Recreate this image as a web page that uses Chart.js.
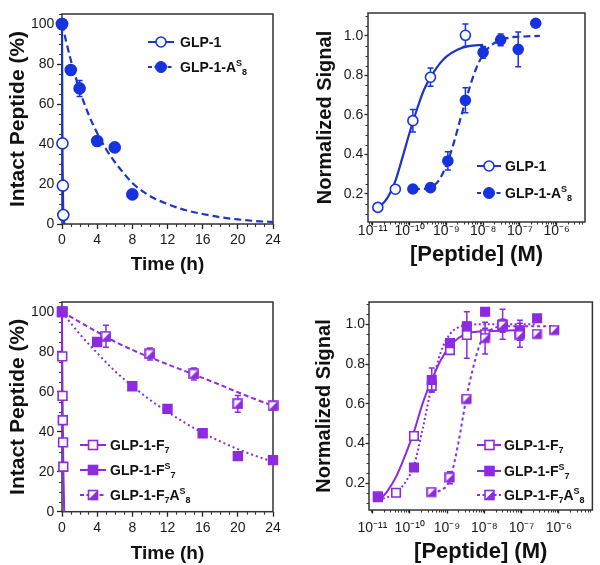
<!DOCTYPE html>
<html>
<head>
<meta charset="utf-8">
<script src="https://cdn.jsdelivr.net/npm/chart.js@4.4.1/dist/chart.umd.min.js"></script>
<style>
  html, body { margin:0; padding:0; background:#fff; }
  #page { position:relative; width:600px; height:565px; overflow:hidden; background:#fff; }
  #page canvas { position:absolute; }
  .lg { position:absolute; height:16px; display:flex; align-items:center; white-space:nowrap;
        font:bold 14px "Liberation Sans", Arial, Helvetica, sans-serif; color:#111; }
  .lg svg { display:block; flex:none; }
  .lg sup { font-size:9px; vertical-align:6px; line-height:0; }
  .lg sub { font-size:9px; vertical-align:-3px; line-height:0; }
</style>
</head>
<body>
<div id="page">
  <canvas id="cA" width="300" height="280" style="left:0;top:0"></canvas>
  <canvas id="cB" width="300" height="280" style="left:300px;top:0"></canvas>
  <canvas id="cC" width="300" height="285" style="left:0;top:280px"></canvas>
  <canvas id="cD" width="300" height="285" style="left:300px;top:280px"></canvas>

  <!-- Legend A -->
  <div class="lg" style="left:148px;top:34px">
    <svg width="26" height="16"><line x1="0" y1="8" x2="26" y2="8" stroke="#1d34c4" stroke-width="2"/><circle cx="13" cy="8" r="5" fill="#fff" stroke="#1733dd" stroke-width="1.6"/></svg>
    <span style="margin-left:6px">GLP-1</span>
  </div>
  <div class="lg" style="left:148px;top:59px">
    <svg width="26" height="16"><line x1="0" y1="8" x2="26" y2="8" stroke="#1d34c4" stroke-width="2" stroke-dasharray="4,2.5"/><circle cx="13" cy="8" r="5.5" fill="#1733dd" stroke="#1733dd" stroke-width="1"/></svg>
    <span style="margin-left:6px">GLP-1-A<sup>S</sup><sub>8</sub></span>
  </div>

  <!-- Legend B -->
  <div class="lg" style="left:477px;top:158px">
    <svg width="24" height="16"><line x1="0" y1="8" x2="24" y2="8" stroke="#1d34c4" stroke-width="2"/><circle cx="12" cy="8" r="5" fill="#fff" stroke="#1733dd" stroke-width="1.6"/></svg>
    <span style="margin-left:4px">GLP-1</span>
  </div>
  <div class="lg" style="left:477px;top:185px">
    <svg width="24" height="16"><line x1="0" y1="8" x2="24" y2="8" stroke="#1d34c4" stroke-width="2" stroke-dasharray="4,2.5"/><circle cx="12" cy="8" r="5.5" fill="#1733dd" stroke="#1733dd" stroke-width="1"/></svg>
    <span style="margin-left:4px">GLP-1-A<sup>S</sup><sub>8</sub></span>
  </div>

  <!-- Legend C -->
  <div class="lg" style="left:80px;top:437px">
    <svg width="26" height="16"><line x1="0" y1="8" x2="26" y2="8" stroke="#8c2be0" stroke-width="2"/><rect x="8.5" y="3.5" width="9" height="9" fill="#fff" stroke="#8c2be0" stroke-width="1.6"/></svg>
    <span style="margin-left:4px">GLP-1-F<sub>7</sub></span>
  </div>
  <div class="lg" style="left:80px;top:462px">
    <svg width="26" height="16"><line x1="0" y1="8" x2="26" y2="8" stroke="#8c2be0" stroke-width="2"/><rect x="8.5" y="3.5" width="9" height="9" fill="#8c2be0" stroke="#8c2be0" stroke-width="1.6"/></svg>
    <span style="margin-left:4px">GLP-1-F<sup>S</sup><sub>7</sub></span>
  </div>
  <div class="lg" style="left:80px;top:487px">
    <svg width="26" height="16"><line x1="0" y1="8" x2="26" y2="8" stroke="#8c2be0" stroke-width="2" stroke-dasharray="4,2.5"/><rect x="8.5" y="3.5" width="9" height="9" fill="#fff" stroke="#8c2be0" stroke-width="1.6"/><polygon points="8.5,12.5 17.5,3.5 17.5,12.5" fill="#8c2be0"/></svg>
    <span style="margin-left:4px">GLP-1-F<sub>7</sub>A<sup>S</sup><sub>8</sub></span>
  </div>

  <!-- Legend D -->
  <div class="lg" style="left:477px;top:437px">
    <svg width="24" height="16"><line x1="0" y1="8" x2="24" y2="8" stroke="#8c2be0" stroke-width="2"/><rect x="8" y="3.5" width="9" height="9" fill="#fff" stroke="#8c2be0" stroke-width="1.6"/></svg>
    <span style="margin-left:3px">GLP-1-F<sub>7</sub></span>
  </div>
  <div class="lg" style="left:477px;top:463px">
    <svg width="24" height="16"><line x1="0" y1="8" x2="24" y2="8" stroke="#8c2be0" stroke-width="2"/><rect x="8" y="3.5" width="9" height="9" fill="#8c2be0" stroke="#8c2be0" stroke-width="1.6"/></svg>
    <span style="margin-left:3px">GLP-1-F<sup>S</sup><sub>7</sub></span>
  </div>
  <div class="lg" style="left:477px;top:487px">
    <svg width="24" height="16"><line x1="0" y1="8" x2="24" y2="8" stroke="#8c2be0" stroke-width="2" stroke-dasharray="3,2.5"/><rect x="8" y="3.5" width="9" height="9" fill="#fff" stroke="#8c2be0" stroke-width="1.6"/><polygon points="8,12.5 17,3.5 17,12.5" fill="#8c2be0"/></svg>
    <span style="margin-left:3px">GLP-1-F<sub>7</sub>A<sup>S</sup><sub>8</sub></span>
  </div>
</div>

<script>
// ================= DATA =================
// Tick values / labels
const timeTicks = [0, 4, 8, 12, 16, 20, 24];
const timeTickLabels = ['0', '4', '8', '12', '16', '20', '24'];
const intactTicks = [0, 20, 40, 60, 80, 100];
const intactTickLabels = ['0', '20', '40', '60', '80', '100'];
const signalTicks = [0.2, 0.4, 0.6, 0.8, 1.0];
const signalTickLabels = ['0.2', '0.4', '0.6', '0.8', '1.0'];
const concTicks = [1e-11, 1e-10, 1e-9, 1e-8, 1e-7, 1e-6];
const concTickLabels = ['10⁻¹¹', '10⁻¹⁰', '10⁻⁹', '10⁻⁸', '10⁻⁷', '10⁻⁶'];

// Panel A: proteolytic stability (time in h, % intact)
const aTimeGLP1 = [0, 0.05, 0.1, 0.15];
const aIntactGLP1 = [100, 40.3, 19.2, 4.5];
const aFitTimeGLP1 = [0, 0.05, 0.1, 0.15, 0.3];
const aFitIntactGLP1 = [100, 40.3, 19.2, 4.5, 0];
const aTimeAS8 = [0, 1, 2, 4, 6, 8];
const aIntactAS8 = [100, 77, 67.8, 41.5, 38.3, 14.8];
const aErrAS8 = [0, 1.5, 4, 1.5, 1.5, 1];
const aFitTimeAS8 = [0, 1, 2, 3, 4, 5, 6, 7, 8, 10, 12, 14, 16, 18, 20, 22, 24];
const aFitIntactAS8 = [100, 82, 67, 55, 45.5, 37.5, 31, 25.5, 20.5, 14, 10, 7, 5, 3.4, 2.3, 1.5, 1.0];

// Panel B: receptor activation (M, normalized signal)
const bConcGLP1 = [1.37e-11, 4.1e-11, 1.23e-10, 3.7e-10, 3.3e-9];
const bSignalGLP1 = [0.132, 0.224, 0.571, 0.791, 1.003];
const bErrGLP1 = [0.01, 0.012, 0.057, 0.046, 0.057];
const bConcAS8 = [1.23e-10, 3.7e-10, 1.1e-9, 3.3e-9, 1e-8, 3e-8, 9e-8, 2.7e-7];
const bSignalAS8 = [0.225, 0.232, 0.367, 0.674, 0.917, 0.98, 0.932, 1.064];
const bErrAS8 = [0.01, 0.015, 0.046, 0.063, 0.03, 0.03, 0.088, 0];
const bFitConcGLP1 = [1.38e-11, 2.5e-11, 4e-11, 6.3e-11, 1e-10, 1.6e-10, 2.5e-10, 4e-10, 6.3e-10, 1e-9, 2e-9, 4e-9, 1e-8];
const bFitSignalGLP1 = [0.125, 0.18, 0.26, 0.38, 0.51, 0.63, 0.73, 0.80, 0.855, 0.895, 0.93, 0.948, 0.955];
const bFitConcAS8 = [1.23e-10, 2.5e-10, 4e-10, 6.3e-10, 1e-9, 1.6e-9, 2.5e-9, 4e-9, 6.3e-9, 1e-8, 1.6e-8, 3e-8, 6e-8, 1.2e-7, 3.5e-7];
const bFitSignalAS8 = [0.225, 0.226, 0.235, 0.27, 0.345, 0.46, 0.59, 0.72, 0.83, 0.905, 0.95, 0.98, 0.993, 0.997, 1.0];

// Panel C: proteolytic stability of F7 analogues
const cTimeF7 = [0, 0.03, 0.06, 0.09, 0.12, 0.15];
const cIntactF7 = [100, 77.8, 58, 45.8, 34.7, 22.5];
const cFitTimeF7 = [0, 0.03, 0.06, 0.09, 0.12, 0.15, 0.25];
const cFitIntactF7 = [100, 77.8, 58, 45.8, 34.7, 22.5, 0];
const cTimeFS7 = [0, 4, 8, 12, 16, 20, 24];
const cIntactFS7 = [100, 85, 62.8, 51.5, 39.3, 27.8, 25.8];
const cErrFS7 = [0, 1, 1, 1, 1, 2, 2];
const cTimeF7AS8 = [0, 5, 10, 15, 20, 24];
const cIntactF7AS8 = [100, 87.8, 79, 69, 54, 53];
const cErrF7AS8 = [0, 5.5, 3, 3, 4.2, 2];
const cFitTime = [0, 2, 4, 6, 8, 10, 12, 14, 16, 18, 20, 22, 24];
const cFitIntactFS7 = [100, 89, 79.5, 70.5, 63, 56, 50, 44.5, 39.5, 35.2, 31.3, 28, 25];
const cFitIntactF7AS8 = [100, 95, 90, 85.2, 81, 77.3, 73.8, 70.4, 67, 63.5, 59.8, 56.3, 53];

// Panel D: receptor activation of F7 analogues
const dConcF7 = [1.4e-11, 4.3e-11, 1.3e-10, 3.9e-10, 1.2e-9, 3.4e-9, 1.05e-8, 3.1e-8, 9e-8];
const dSignalF7 = [0.135, 0.153, 0.438, 0.69, 0.87, 0.946, 0.95, 0.99, 0.955];
const dErrF7 = [0.01, 0.01, 0.015, 0.03, 0.02, 0.117, 0.03, 0.03, 0.02];
const dConcFS7 = [1.4e-11, 1.3e-10, 3.9e-10, 1.2e-9, 3.4e-9, 1.05e-8, 3.1e-8, 9e-8, 2.6e-7];
const dSignalFS7 = [0.13, 0.28, 0.72, 0.905, 0.99, 1.063, 1.0, 0.97, 1.03];
const dErrFS7 = [0.01, 0.01, 0.06, 0.02, 0.02, 0.02, 0.075, 0.05, 0.01];
const dConcF7AS8 = [3.9e-10, 1.2e-9, 3.4e-9, 1.05e-8, 3.1e-8, 9e-8, 2.6e-7, 7.6e-7];
const dSignalF7AS8 = [0.155, 0.228, 0.624, 0.93, 0.995, 0.945, 0.95, 0.97];
const dErrF7AS8 = [0.01, 0.03, 0.02, 0.08, 0.03, 0.06, 0.01, 0.01];
const dFitConcF7 = [1.45e-11, 2.5e-11, 4.5e-11, 7.9e-11, 1.3e-10, 2.2e-10, 3.9e-10, 6.8e-10, 1.2e-9, 2e-9, 3.5e-9, 6.3e-9, 1.07e-8, 3.2e-8, 9e-8];
const dFitSignalF7 = [0.11, 0.16, 0.24, 0.35, 0.46, 0.6, 0.72, 0.82, 0.89, 0.93, 0.955, 0.962, 0.965, 0.968, 0.97];
const dFitConcFS7 = [1.45e-11, 2.5e-11, 4.5e-11, 7.9e-11, 1.3e-10, 2.2e-10, 3.9e-10, 6.8e-10, 1.2e-9, 2e-9, 3.5e-9, 1.07e-8, 9e-8, 2.6e-7];
const dFitSignalFS7 = [0.12, 0.13, 0.155, 0.21, 0.29, 0.47, 0.69, 0.86, 0.95, 0.985, 0.997, 1.0, 1.0, 1.0];
const dFitConcF7AS8 = [3.9e-10, 6.8e-10, 1.2e-9, 2e-9, 3.3e-9, 5e-9, 7.6e-9, 1.07e-8, 1.8e-8, 3.2e-8, 9e-8, 2.6e-7, 7.6e-7];
const dFitSignalF7AS8 = [0.155, 0.165, 0.22, 0.4, 0.63, 0.78, 0.9, 0.95, 0.98, 0.99, 0.99, 0.99, 0.99];

// ================= STYLE / HELPERS =================
const BLUE = '#1733dd';
const BLUE_LINE = '#1d34c4';
const PURPLE = '#8c2be0';
const FAMILY = '"Liberation Sans", Arial, Helvetica, sans-serif';
const TICK_FONT = {family: FAMILY, size: 14};
const AXIS_COLOR = '#222';

function xy(xs, ys) { return xs.map((x, i) => ({x: x, y: ys[i]})); }

function halfSquare(side, color) {
  const c = document.createElement('canvas');
  const s = Math.ceil(side) + 2;
  c.width = s; c.height = s;
  const g = c.getContext('2d');
  const o = 1, e = 1 + side;
  g.fillStyle = '#fff'; g.fillRect(o, o, side, side);
  g.beginPath(); g.moveTo(o, e); g.lineTo(e, o); g.lineTo(e, e); g.closePath();
  g.fillStyle = color; g.fill();
  g.lineWidth = 1.6; g.strokeStyle = color; g.strokeRect(o, o, side, side);
  return c;
}

function pointSet(xs, ys, errs, style, color, fill, r) {
  return {
    data: xy(xs, ys), errors: errs, showLine: false, pointStyle: style,
    pointRadius: r, pointHoverRadius: r, pointBackgroundColor: fill, pointBorderColor: color,
    pointBorderWidth: 1.6, borderColor: color, backgroundColor: fill, clip: false
  };
}
function fitSet(xs, ys, color, dash, w) {
  return {
    data: xy(xs, ys), showLine: true, pointRadius: 0, pointHoverRadius: 0, pointHitRadius: 0,
    borderColor: color, borderWidth: w, borderDash: dash, cubicInterpolationMode: 'monotone',
    fill: false, clip: false
  };
}

function axisCommon(pos, o, ticks, labels) {
  return {
    position: pos,
    afterBuildTicks: s => { s.ticks = ticks.map(v => ({value: v})); },
    afterFit: s => { if (pos === 'left') s.width = o.size; else s.height = o.size; },
    ticks: {callback: (v, i) => labels[i], font: TICK_FONT, color: '#1a1a1a', padding: o.tickPad,
            maxRotation: 0, minRotation: 0, autoSkip: false},
    grid: {display: true, drawOnChartArea: false, drawTicks: true, tickLength: o.tickLen, color: AXIS_COLOR, tickColor: AXIS_COLOR, tickWidth: 1.3},
    border: {display: false},
    title: {display: true, text: o.title, color: '#111',
            font: {family: FAMILY, size: o.titleSize, weight: 'bold'}, padding: o.titlePad}
  };
}
function linAxis(pos, min, max, ticks, labels, o) {
  return Object.assign({type: 'linear', min: min, max: max}, axisCommon(pos, o, ticks, labels));
}
function logAxis(min, max, o) {
  return Object.assign({type: 'logarithmic', min: min, max: max}, axisCommon('bottom', o, concTicks, concTickLabels));
}
function linMinors(lo, hi, step, majors) {
  const out = [];
  for (let k = Math.ceil(lo / step); k * step <= hi + 1e-9; k++) {
    const v = +(k * step).toFixed(6);
    if (!majors.some(m => Math.abs(m - v) < 1e-9)) out.push(v);
  }
  return out;
}
function logMinors(lo, hi) {
  const out = [];
  for (let d = -12; d <= -5; d++) for (let m = 2; m <= 9; m++) {
    const v = m * Math.pow(10, d);
    if (v > lo && v < hi) out.push(v);
  }
  return out;
}

const framePlugin = {
  id: 'frame',
  beforeDatasetsDraw(chart, args, o) {
    const {ctx, chartArea: a, scales} = chart;
    ctx.save();
    ctx.strokeStyle = o.color; ctx.lineWidth = o.width;
    ctx.strokeRect(a.left, a.top, a.right - a.left, a.bottom - a.top);
    ctx.lineWidth = 1.1;
    ctx.beginPath();
    (o.minorX || []).forEach(v => {
      const p = Math.round(scales.x.getPixelForValue(v)) + 0.5;
      ctx.moveTo(p, a.bottom); ctx.lineTo(p, a.bottom + o.len);
    });
    (o.minorY || []).forEach(v => {
      const p = Math.round(scales.y.getPixelForValue(v)) + 0.5;
      ctx.moveTo(a.left, p); ctx.lineTo(a.left - o.len, p);
    });
    ctx.stroke();
    ctx.restore();
  }
};
const errorBarPlugin = {
  id: 'errbars',
  beforeDatasetDraw(chart, args) {
    const ds = chart.data.datasets[args.index];
    if (!ds.errors) return;
    const meta = args.meta, ys = chart.scales[meta.yAxisID], ctx = chart.ctx;
    const cap = 3;
    ctx.save(); ctx.strokeStyle = ds.pointBorderColor; ctx.lineWidth = 1.5;
    ctx.beginPath();
    meta.data.forEach((el, i) => {
      const e = ds.errors[i]; if (!e) return;
      const v = ds.data[i].y;
      const t = ys.getPixelForValue(v + e), b = ys.getPixelForValue(v - e);
      ctx.moveTo(el.x, t); ctx.lineTo(el.x, b);
      ctx.moveTo(el.x - cap, t); ctx.lineTo(el.x + cap, t);
      ctx.moveTo(el.x - cap, b); ctx.lineTo(el.x + cap, b);
    });
    ctx.stroke(); ctx.restore();
  }
};

function makeChart(id, datasets, padding, xScale, yScale, frame) {
  return new Chart(document.getElementById(id), {
    type: 'scatter',
    data: {datasets: datasets},
    plugins: [framePlugin, errorBarPlugin],
    options: {
      responsive: false, animation: false, devicePixelRatio: 1, events: [],
      layout: {padding: padding},
      plugins: {legend: {display: false}, tooltip: {enabled: false}, frame: frame},
      scales: {x: xScale, y: yScale}
    }
  });
}

// ================= PANEL A =================
makeChart('cA', [
  pointSet(aTimeAS8, aIntactAS8, aErrAS8, 'circle', BLUE, BLUE, 5.5),
  pointSet(aTimeGLP1, aIntactGLP1, null, 'circle', BLUE, '#fff', 5.5),
  fitSet(aFitTimeAS8, aFitIntactAS8, BLUE_LINE, [7, 4], 2.2),
  fitSet(aFitTimeGLP1, aFitIntactGLP1, BLUE_LINE, [], 2.2)
], {left: 0, right: 27, top: 14, bottom: 0},
  linAxis('bottom', 0, 24, timeTicks, timeTickLabels,
    {size: 56, tickLen: 5, tickPad: 2.6, title: 'Time (h)', titleSize: 19, titlePad: {top: 0, bottom: 3.6}}),
  linAxis('left', 0, 105, intactTicks, intactTickLabels,
    {size: 62, tickLen: 5, tickPad: 2.7, title: 'Intact Peptide (%)', titleSize: 21, titlePad: {top: 5.4, bottom: 0}}),
  {color: '#333', width: 1.5, len: 3, minorX: linMinors(0, 24, 1, timeTicks), minorY: linMinors(0, 105, 5, intactTicks)}
);

// ================= PANEL B =================
const bMin = 7.4e-12, bMax = 5.9e-6;
makeChart('cB', [
  pointSet(bConcAS8, bSignalAS8, bErrAS8, 'circle', BLUE, BLUE, 5),
  pointSet(bConcGLP1, bSignalGLP1, bErrGLP1, 'circle', BLUE, '#fff', 5),
  fitSet(bFitConcAS8, bFitSignalAS8, BLUE_LINE, [7, 4], 2.2),
  fitSet(bFitConcGLP1, bFitSignalGLP1, BLUE_LINE, [], 2.2)
], {left: 0, right: 15, top: 13, bottom: 0},
  logAxis(bMin, bMax, {size: 58, tickLen: 3.5, tickPad: -3, title: '[Peptide] (M)', titleSize: 22, titlePad: {top: 0, bottom: 11.8}}),
  linAxis('left', 0.058, 1.116, signalTicks, signalTickLabels,
    {size: 68, tickLen: 3.5, tickPad: 1.2, title: 'Normalized Signal', titleSize: 20, titlePad: {top: 13, bottom: 0}}),
  {color: '#333', width: 1.5, len: 2.5, minorX: logMinors(bMin, bMax), minorY: linMinors(0.058, 1.116, 0.05, signalTicks)}
);

// ================= PANEL C =================
const halfC = halfSquare(9, PURPLE);
makeChart('cC', [
  pointSet(cTimeFS7, cIntactFS7, cErrFS7, 'rect', PURPLE, PURPLE, 6.2),
  pointSet(cTimeF7AS8, cIntactF7AS8, cErrF7AS8, halfC, PURPLE, '#fff', 6.2),
  pointSet(cTimeF7, cIntactF7, null, 'rect', PURPLE, '#fff', 6.2),
  fitSet(cFitTime, cFitIntactFS7, PURPLE, [2, 3], 2),
  fitSet(cFitTime, cFitIntactF7AS8, PURPLE, [5, 3], 2),
  fitSet(cFitTimeF7, cFitIntactF7, PURPLE, [], 2)
], {left: 0, right: 27, top: 22, bottom: 0},
  linAxis('bottom', 0, 24, timeTicks, timeTickLabels,
    {size: 53.3, tickLen: 5, tickPad: 3.2, title: 'Time (h)', titleSize: 19, titlePad: {top: 0, bottom: 0.3}}),
  linAxis('left', 0, 105, intactTicks, intactTickLabels,
    {size: 62, tickLen: 5, tickPad: 2.7, title: 'Intact Peptide (%)', titleSize: 21, titlePad: {top: 5.4, bottom: 0}}),
  {color: '#333', width: 1.5, len: 3, minorX: linMinors(0, 24, 1, timeTicks), minorY: linMinors(0, 105, 5, intactTicks)}
);

// ================= PANEL D =================
const dMin = 8.1e-12, dMax = 7.9e-6;
const halfD = halfSquare(8.5, PURPLE);
makeChart('cD', [
  pointSet(dConcF7AS8, dSignalF7AS8, dErrF7AS8, halfD, PURPLE, '#fff', 6),
  pointSet(dConcFS7, dSignalFS7, dErrFS7, 'rect', PURPLE, PURPLE, 6),
  pointSet(dConcF7, dSignalF7, dErrF7, 'rect', PURPLE, '#fff', 6),
  fitSet(dFitConcF7AS8, dFitSignalF7AS8, PURPLE, [3, 3], 2),
  fitSet(dFitConcFS7, dFitSignalFS7, PURPLE, [2, 2.5], 2),
  fitSet(dFitConcF7, dFitSignalF7, PURPLE, [], 2)
], {left: 0, right: 7, top: 22, bottom: 0},
  logAxis(dMin, dMax, {size: 55, tickLen: 3.5, tickPad: 6.4, title: '[Peptide] (M)', titleSize: 22, titlePad: {top: 0, bottom: 0.1}}),
  linAxis('left', 0.066, 1.112, signalTicks, signalTickLabels,
    {size: 69, tickLen: 3.5, tickPad: 0.5, title: 'Normalized Signal', titleSize: 20, titlePad: {top: 12.4, bottom: 0}}),
  {color: '#333', width: 1.5, len: 2.5, minorX: logMinors(dMin, dMax), minorY: linMinors(0.066, 1.112, 0.05, signalTicks)}
);
</script>
</body>
</html>
